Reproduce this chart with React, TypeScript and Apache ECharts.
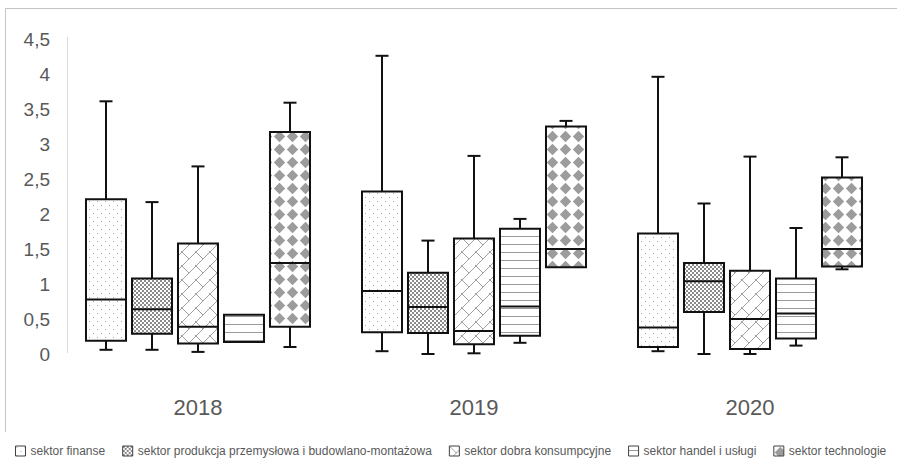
import React, { useEffect, useRef } from "react";
import * as echarts from "echarts";

// Years on the category axis
const years = ["2018", "2019", "2020"];

// Sector names (legend order)
const sectorNames = [
  "sektor finanse",
  "sektor produkcja przemysłowa i budowlano-montażowa",
  "sektor dobra konsumpcyjne",
  "sektor handel i usługi",
  "sektor technologie",
];

// Box statistics per year: [min, Q1, median, Q3, max]
const finanse = [
  [0.06, 0.19, 0.78, 2.21, 3.61],
  [0.04, 0.31, 0.9, 2.32, 4.26],
  [0.04, 0.1, 0.38, 1.72, 3.96],
];
const produkcja = [
  [0.06, 0.29, 0.64, 1.08, 2.17],
  [0.0, 0.3, 0.67, 1.16, 1.62],
  [0.0, 0.6, 1.04, 1.3, 2.15],
];
const dobra = [
  [0.03, 0.15, 0.39, 1.58, 2.68],
  [0.01, 0.14, 0.33, 1.65, 2.83],
  [0.0, 0.07, 0.5, 1.19, 2.82],
];
const handel = [
  [0.17, 0.17, 0.17, 0.56, 0.56],
  [0.16, 0.26, 0.68, 1.79, 1.93],
  [0.12, 0.22, 0.58, 1.08, 1.8],
];
const technologie = [
  [0.1, 0.39, 1.3, 3.17, 3.59],
  [1.24, 1.24, 1.5, 3.25, 3.33],
  [1.21, 1.25, 1.5, 2.52, 2.81],
];

const sectorStats = [finanse, produkcja, dobra, handel, technologie];

// Y axis ticks
const yMin = 0;
const yMax = 4.5;
const yStep = 0.5;

type Painter = (ctx: CanvasRenderingContext2D, s: number) => void;

function makePattern(size: number, paint: Painter) {
  const c = document.createElement("canvas");
  c.width = size;
  c.height = size;
  const ctx = c.getContext("2d") as CanvasRenderingContext2D;
  ctx.fillStyle = "#ffffff";
  ctx.fillRect(0, 0, size, size);
  paint(ctx, size);
  return {
    image: c.toDataURL(),
    imageWidth: size,
    imageHeight: size,
    repeat: "repeat",
  };
}

function buildPatterns() {
  // sparse dots
  const dots = makePattern(8, (ctx) => {
    ctx.fillStyle = "#a8a8a8";
    ctx.fillRect(1, 1, 1, 1);
    ctx.fillRect(5, 5, 1, 1);
  });
  // small checkerboard
  const checker = makePattern(4, (ctx) => {
    ctx.fillStyle = "#8c8c8c";
    ctx.fillRect(0, 0, 2, 2);
    ctx.fillRect(2, 2, 2, 2);
  });
  // diagonal brick
  const brick = makePattern(14, (ctx, s) => {
    ctx.strokeStyle = "#a0a0a0";
    ctx.lineWidth = 1;
    ctx.beginPath();
    ctx.moveTo(-1, s + 1);
    ctx.lineTo(s + 1, -1);
    ctx.moveTo(-1, -1);
    ctx.lineTo(s / 2, s / 2);
    ctx.moveTo(s - 1, s - 1);
    ctx.lineTo(s + 1, s + 1);
    ctx.stroke();
  });
  // horizontal lines
  const hlines = makePattern(8, (ctx, s) => {
    ctx.fillStyle = "#9a9a9a";
    ctx.fillRect(0, 4, s, 1);
  });
  // large diamonds
  const diamonds = makePattern(13, (ctx) => {
    ctx.fillStyle = "#9c9c9c";
    ctx.beginPath();
    ctx.moveTo(6.5, 0.8);
    ctx.lineTo(12.2, 6.5);
    ctx.lineTo(6.5, 12.2);
    ctx.lineTo(0.8, 6.5);
    ctx.closePath();
    ctx.fill();
  });
  return [dots, checker, brick, hlines, diamonds];
}

export default function App() {
  const ref = useRef<HTMLDivElement>(null);

  useEffect(() => {
    if (!ref.current) return;
    const chart = echarts.init(ref.current, null, { renderer: "svg" });
    const patterns = buildPatterns();
    const seriesCount = sectorNames.length;

    const renderBox = (seriesIdx: number) => (params: any, api: any) => {
      const cat = api.value(0);
      const vMin = api.value(1);
      const q1 = api.value(2);
      const med = api.value(3);
      const q3 = api.value(4);
      const vMax = api.value(5);
      const band = api.size([1, 0])[0];
      const pitch = band / 6;
      const boxW = band * 0.145;
      const cx = api.coord([cat, 0])[0] + (seriesIdx - (seriesCount - 1) / 2) * pitch;
      const yMinP = api.coord([cat, vMin])[1];
      const yQ1 = api.coord([cat, q1])[1];
      const yMed = api.coord([cat, med])[1];
      const yQ3 = api.coord([cat, q3])[1];
      const yMaxP = api.coord([cat, vMax])[1];
      const capW = 13;
      const lineStyle = { stroke: "#111", lineWidth: 2, fill: null };
      const children: any[] = [];
      if (vMax > q3) {
        children.push({
          type: "line",
          shape: { x1: cx, y1: yQ3, x2: cx, y2: yMaxP },
          style: lineStyle,
        });
        children.push({
          type: "line",
          shape: { x1: cx - capW / 2, y1: yMaxP, x2: cx + capW / 2, y2: yMaxP },
          style: lineStyle,
        });
      }
      if (vMin < q1) {
        children.push({
          type: "line",
          shape: { x1: cx, y1: yQ1, x2: cx, y2: yMinP },
          style: lineStyle,
        });
        children.push({
          type: "line",
          shape: { x1: cx - capW / 2, y1: yMinP, x2: cx + capW / 2, y2: yMinP },
          style: lineStyle,
        });
      }
      children.push({
        type: "rect",
        shape: { x: cx - boxW / 2, y: yQ3, width: boxW, height: yQ1 - yQ3 },
        style: { fill: patterns[seriesIdx], stroke: "#111", lineWidth: 2 },
      });
      children.push({
        type: "line",
        shape: { x1: cx - boxW / 2, y1: yMed, x2: cx + boxW / 2, y2: yMed },
        style: lineStyle,
      });
      return { type: "group", children };
    };

    const series = sectorNames.map((name, si) => ({
      name,
      type: "custom",
      renderItem: renderBox(si),
      itemStyle: { color: patterns[si], borderColor: "#404040", borderWidth: 1 },
      encode: { x: 0, y: [1, 2, 3, 4, 5] },
      data: sectorStats[si].map((s, yi) => [yi, ...s]),
    }));

    chart.setOption({
      animation: false,
      backgroundColor: "#ffffff",
      textStyle: { fontFamily: "Liberation Sans, Arial, sans-serif" },
      grid: { left: 60, right: 9, top: 39, bottom: 106, containLabel: false },
      xAxis: {
        type: "category",
        data: years,
        boundaryGap: true,
        axisLine: { show: false },
        axisTick: { show: false },
        splitLine: { show: false },
        axisLabel: { color: "#595959", fontSize: 22, margin: 42 },
      },
      yAxis: {
        type: "value",
        min: yMin,
        max: yMax,
        interval: yStep,
        axisLine: { show: false },
        axisTick: { show: false },
        splitLine: { show: false },
        axisLabel: {
          color: "#595959",
          fontSize: 19,
          margin: 10,
          formatter: (v: number) => String(v).replace(".", ","),
        },
      },
      legend: {
        top: 445,
        left: 15,
        width: 890,
        padding: 0,
        itemWidth: 10,
        itemHeight: 10,
        itemGap: 17,
        icon: "rect",
        itemStyle: { borderColor: "#404040", borderWidth: 1 },
        textStyle: { color: "#595959", fontSize: 12 },
        data: sectorNames,
      },
      graphic: [
        {
          type: "polyline",
          shape: { points: [[5.5, 432], [5.5, 8.5], [897, 8.5]] },
          style: { stroke: "#c4c4c4", lineWidth: 1, fill: null },
          silent: true,
        },
        {
          type: "line",
          shape: { x1: 67.5, y1: 37, x2: 67.5, y2: 353 },
          style: { stroke: "#d9d9d9", lineWidth: 1 },
          silent: true,
        },
      ],
      series,
    });

    return () => chart.dispose();
  }, []);

  return <div ref={ref} style={{ width: 897, height: 460, position: "absolute", left: 0, top: 0 }} />;
}
